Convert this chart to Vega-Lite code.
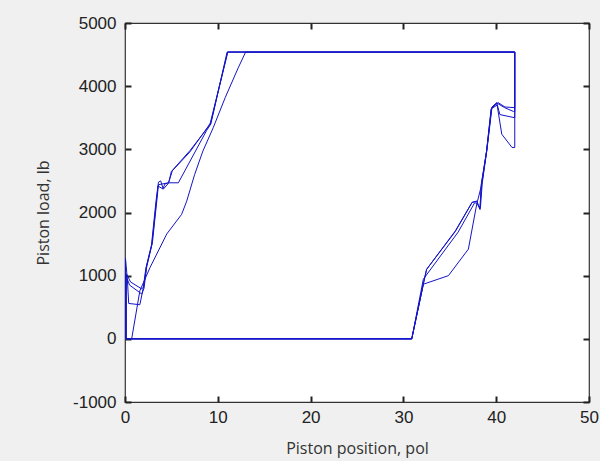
{
  "$schema": "https://vega.github.io/schema/vega-lite/v6.json",
  "width": 464,
  "height": 379,
  "autosize": {"type": "none"},
  "padding": {"left": 125, "top": 23, "right": 11, "bottom": 59},
  "background": "#f0f0f0",
  "config": {"view": {"fill": "white", "stroke": "#333333", "strokeWidth": 1.2}},
  "data": {"values": [
    {"cycle": "A", "i": 0, "pos": 0.15, "load": 0},
    {"cycle": "A", "i": 1, "pos": 0.15, "load": 1030},
    {"cycle": "A", "i": 2, "pos": 0.6, "load": 900},
    {"cycle": "A", "i": 3, "pos": 1.8, "load": 790},
    {"cycle": "A", "i": 4, "pos": 2.0, "load": 820},
    {"cycle": "A", "i": 5, "pos": 2.3, "load": 1130},
    {"cycle": "A", "i": 6, "pos": 2.9, "load": 1500},
    {"cycle": "A", "i": 7, "pos": 3.4, "load": 2200},
    {"cycle": "A", "i": 8, "pos": 3.6, "load": 2480},
    {"cycle": "A", "i": 9, "pos": 3.85, "load": 2500},
    {"cycle": "A", "i": 10, "pos": 4.1, "load": 2380},
    {"cycle": "A", "i": 11, "pos": 4.3, "load": 2450},
    {"cycle": "A", "i": 12, "pos": 4.7, "load": 2470},
    {"cycle": "A", "i": 13, "pos": 5.0, "load": 2650},
    {"cycle": "A", "i": 14, "pos": 7.0, "load": 2980},
    {"cycle": "A", "i": 15, "pos": 8.8, "load": 3320},
    {"cycle": "A", "i": 16, "pos": 9.2, "load": 3420},
    {"cycle": "A", "i": 17, "pos": 11.07, "load": 4540},
    {"cycle": "A", "i": 18, "pos": 42.0, "load": 4540},
    {"cycle": "A", "i": 19, "pos": 42.0, "load": 3660},
    {"cycle": "A", "i": 20, "pos": 40.95, "load": 3670},
    {"cycle": "A", "i": 21, "pos": 40.2, "load": 3740},
    {"cycle": "A", "i": 22, "pos": 39.5, "load": 3650},
    {"cycle": "A", "i": 23, "pos": 38.97, "load": 2975},
    {"cycle": "A", "i": 24, "pos": 38.4, "load": 2450},
    {"cycle": "A", "i": 25, "pos": 38.25, "load": 2050},
    {"cycle": "A", "i": 26, "pos": 37.9, "load": 2180},
    {"cycle": "A", "i": 27, "pos": 37.4, "load": 2160},
    {"cycle": "A", "i": 28, "pos": 35.6, "load": 1710},
    {"cycle": "A", "i": 29, "pos": 32.5, "load": 1100},
    {"cycle": "A", "i": 30, "pos": 32.15, "load": 870},
    {"cycle": "A", "i": 31, "pos": 30.9, "load": 0},
    {"cycle": "A", "i": 32, "pos": 0.15, "load": 0},

    {"cycle": "B", "i": 0, "pos": 0.1, "load": 0},
    {"cycle": "B", "i": 1, "pos": 0.1, "load": 1000},
    {"cycle": "B", "i": 2, "pos": 0.5, "load": 850},
    {"cycle": "B", "i": 3, "pos": 1.8, "load": 710},
    {"cycle": "B", "i": 4, "pos": 2.05, "load": 800},
    {"cycle": "B", "i": 5, "pos": 2.35, "load": 1150},
    {"cycle": "B", "i": 6, "pos": 2.95, "load": 1520},
    {"cycle": "B", "i": 7, "pos": 3.45, "load": 2220},
    {"cycle": "B", "i": 8, "pos": 3.6, "load": 2440},
    {"cycle": "B", "i": 9, "pos": 4.67, "load": 2470},
    {"cycle": "B", "i": 10, "pos": 5.75, "load": 2470},
    {"cycle": "B", "i": 11, "pos": 8.8, "load": 3300},
    {"cycle": "B", "i": 12, "pos": 9.25, "load": 3400},
    {"cycle": "B", "i": 13, "pos": 11.0, "load": 4540},
    {"cycle": "B", "i": 14, "pos": 42.0, "load": 4540},
    {"cycle": "B", "i": 15, "pos": 42.0, "load": 3500},
    {"cycle": "B", "i": 16, "pos": 40.4, "load": 3550},
    {"cycle": "B", "i": 17, "pos": 40.05, "load": 3740},
    {"cycle": "B", "i": 18, "pos": 39.55, "load": 3670},
    {"cycle": "B", "i": 19, "pos": 39.0, "load": 2990},
    {"cycle": "B", "i": 20, "pos": 38.5, "load": 2470},
    {"cycle": "B", "i": 21, "pos": 38.3, "load": 2080},
    {"cycle": "B", "i": 22, "pos": 37.7, "load": 2160},
    {"cycle": "B", "i": 23, "pos": 35.9, "load": 1690},
    {"cycle": "B", "i": 24, "pos": 32.15, "load": 945},
    {"cycle": "B", "i": 25, "pos": 30.9, "load": 0},
    {"cycle": "B", "i": 26, "pos": 0.1, "load": 0},

    {"cycle": "C", "i": 0, "pos": 0.05, "load": 0},
    {"cycle": "C", "i": 1, "pos": 0.05, "load": 1280},
    {"cycle": "C", "i": 2, "pos": 0.25, "load": 950},
    {"cycle": "C", "i": 3, "pos": 0.4, "load": 560},
    {"cycle": "C", "i": 4, "pos": 1.6, "load": 540},
    {"cycle": "C", "i": 5, "pos": 1.95, "load": 790},
    {"cycle": "C", "i": 6, "pos": 2.25, "load": 1120},
    {"cycle": "C", "i": 7, "pos": 2.85, "load": 1480},
    {"cycle": "C", "i": 8, "pos": 3.35, "load": 2190},
    {"cycle": "C", "i": 9, "pos": 3.55, "load": 2420},
    {"cycle": "C", "i": 10, "pos": 4.13, "load": 2370},
    {"cycle": "C", "i": 11, "pos": 4.67, "load": 2460},
    {"cycle": "C", "i": 12, "pos": 5.1, "load": 2660},
    {"cycle": "C", "i": 13, "pos": 7.0, "load": 2960},
    {"cycle": "C", "i": 14, "pos": 8.85, "load": 3340},
    {"cycle": "C", "i": 15, "pos": 9.2, "load": 3400},
    {"cycle": "C", "i": 16, "pos": 11.07, "load": 4540},
    {"cycle": "C", "i": 17, "pos": 42.0, "load": 4540},
    {"cycle": "C", "i": 18, "pos": 42.0, "load": 3030},
    {"cycle": "C", "i": 19, "pos": 41.7, "load": 3030},
    {"cycle": "C", "i": 20, "pos": 40.6, "load": 3240},
    {"cycle": "C", "i": 21, "pos": 40.1, "load": 3700},
    {"cycle": "C", "i": 22, "pos": 39.45, "load": 3640},
    {"cycle": "C", "i": 23, "pos": 38.95, "load": 2960},
    {"cycle": "C", "i": 24, "pos": 38.45, "load": 2450},
    {"cycle": "C", "i": 25, "pos": 37.9, "load": 2130},
    {"cycle": "C", "i": 26, "pos": 37.0, "load": 1420},
    {"cycle": "C", "i": 27, "pos": 34.85, "load": 1000},
    {"cycle": "C", "i": 28, "pos": 32.15, "load": 865},
    {"cycle": "C", "i": 29, "pos": 30.9, "load": 0},
    {"cycle": "C", "i": 30, "pos": 0.05, "load": 0},

    {"cycle": "D", "i": 0, "pos": 0.72, "load": 0},
    {"cycle": "D", "i": 1, "pos": 1.6, "load": 760},
    {"cycle": "D", "i": 2, "pos": 2.7, "load": 1130},
    {"cycle": "D", "i": 3, "pos": 4.5, "load": 1660},
    {"cycle": "D", "i": 4, "pos": 6.1, "load": 1970},
    {"cycle": "D", "i": 5, "pos": 6.65, "load": 2180},
    {"cycle": "D", "i": 6, "pos": 7.5, "load": 2600},
    {"cycle": "D", "i": 7, "pos": 8.4, "load": 2975},
    {"cycle": "D", "i": 8, "pos": 9.5, "load": 3340},
    {"cycle": "D", "i": 9, "pos": 10.8, "load": 3820},
    {"cycle": "D", "i": 10, "pos": 12.2, "load": 4290},
    {"cycle": "D", "i": 11, "pos": 13.0, "load": 4540},
    {"cycle": "D", "i": 12, "pos": 42.0, "load": 4540},
    {"cycle": "D", "i": 13, "pos": 42.0, "load": 3600},
    {"cycle": "D", "i": 14, "pos": 41.85, "load": 3600},
    {"cycle": "D", "i": 15, "pos": 40.9, "load": 3660},
    {"cycle": "D", "i": 16, "pos": 40.1, "load": 3730},
    {"cycle": "D", "i": 17, "pos": 39.5, "load": 3660},
    {"cycle": "D", "i": 18, "pos": 38.97, "load": 2975},
    {"cycle": "D", "i": 19, "pos": 38.4, "load": 2450},
    {"cycle": "D", "i": 20, "pos": 38.25, "load": 2050},
    {"cycle": "D", "i": 21, "pos": 37.9, "load": 2180},
    {"cycle": "D", "i": 22, "pos": 37.4, "load": 2160},
    {"cycle": "D", "i": 23, "pos": 35.6, "load": 1700},
    {"cycle": "D", "i": 24, "pos": 32.5, "load": 1100},
    {"cycle": "D", "i": 25, "pos": 32.15, "load": 870},
    {"cycle": "D", "i": 26, "pos": 30.9, "load": 0},
    {"cycle": "D", "i": 27, "pos": 0.72, "load": 0}
  ]},
  "layer": [
    {
      "mark": {"type": "line", "color": "#1414c8", "strokeWidth": 1, "clip": true},
      "encoding": {
        "x": {
          "field": "pos", "type": "quantitative",
          "scale": {"domain": [0, 50], "nice": false, "zero": false},
          "axis": {
            "orient": "bottom", "values": [0, 10, 20, 30, 40, 50],
            "offset": -6, "domain": false,
            "grid": false, "ticks": true, "tickSize": 6, "labelPadding": 7,
            "labelFlush": false, "labelOverlap": false,
            "labelExpr": "'' + datum.value",
            "tickColor": "#222222", "tickWidth": 2,
            "labelFont": "Liberation Sans", "labelFontSize": 17, "labelColor": "#222222",
            "title": "Piston position, pol",
            "titleFont": "Open Sans", "titleFontSize": 16, "titleFontWeight": "normal",
            "titleColor": "#333333", "titleBaseline": "alphabetic", "titleY": 57
          }
        },
        "y": {
          "field": "load", "type": "quantitative",
          "scale": {"domain": [-1000, 5000], "nice": false, "zero": false},
          "axis": {
            "orient": "left", "values": [-1000, 0, 1000, 2000, 3000, 4000, 5000],
            "offset": -6, "domain": false,
            "grid": false, "ticks": true, "tickSize": 6, "labelPadding": 9,
            "labelFlush": false, "labelOverlap": false,
            "labelExpr": "'' + datum.value",
            "tickColor": "#222222", "tickWidth": 2,
            "labelFont": "Liberation Sans", "labelFontSize": 17, "labelColor": "#222222",
            "title": "Piston load, lb",
            "titleFont": "Open Sans", "titleFontSize": 16, "titleFontWeight": "normal",
            "titleColor": "#333333", "titleBaseline": "alphabetic",
            "titleX": -83, "titleY": 189.5, "titleAngle": -90
          }
        },
        "detail": {"field": "cycle"},
        "order": {"field": "i", "type": "quantitative"}
      }
    },
    {
      "mark": {"type": "point", "opacity": 0},
      "encoding": {
        "x": {
          "field": "pos", "type": "quantitative",
          "scale": {"domain": [0, 50], "nice": false, "zero": false},
          "axis": {
            "orient": "top", "values": [0, 10, 20, 30, 40, 50],
            "offset": -6, "domain": false,
            "grid": false, "ticks": true, "tickSize": 6, "labels": false, "title": null,
            "tickColor": "#222222", "tickWidth": 2
          }
        },
        "y": {
          "field": "load", "type": "quantitative",
          "scale": {"domain": [-1000, 5000], "nice": false, "zero": false},
          "axis": {
            "orient": "right", "values": [-1000, 0, 1000, 2000, 3000, 4000, 5000],
            "offset": -6, "domain": false,
            "grid": false, "ticks": true, "tickSize": 6, "labels": false, "title": null,
            "tickColor": "#222222", "tickWidth": 2
          }
        }
      }
    }
  ],
  "resolve": {
    "scale": {"x": "independent", "y": "independent"},
    "axis": {"x": "independent", "y": "independent"}
  }
}
